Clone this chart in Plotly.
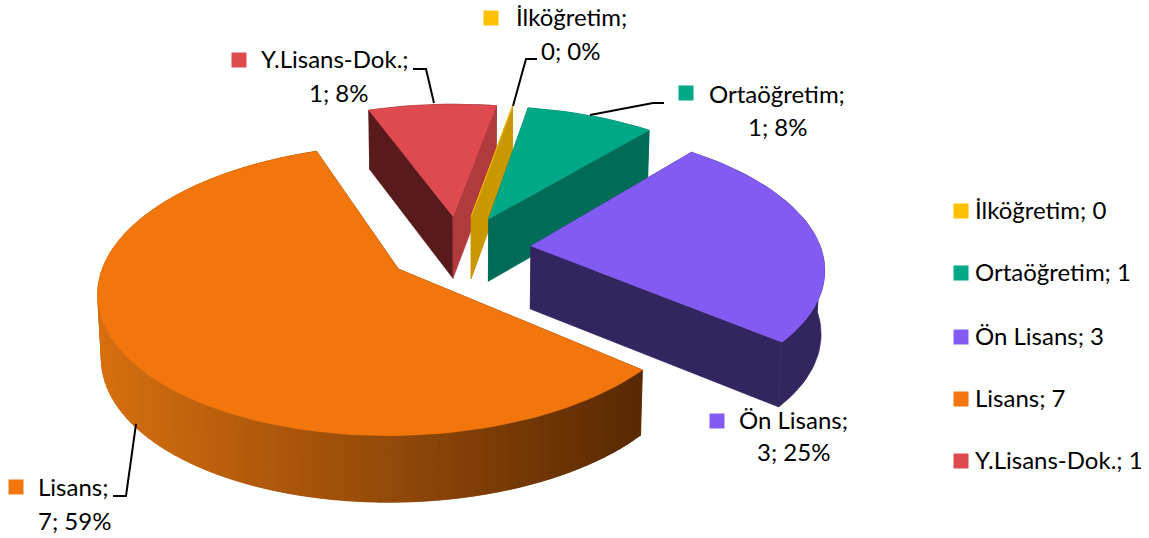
import numpy as np
import plotly.graph_objects as go

# --- data ---
categories = ["İlköğretim", "Ortaöğretim", "Ön Lisans", "Lisans", "Y.Lisans-Dok."]
values = [0, 1, 3, 7, 1]
percents = ["0%", "8%", "25%", "59%", "8%"]

# --- styles ---
top_colors = ["#FFC000", "#00A887", "#825CF2", "#F2760C", "#DE4A50"]
start_cut = ["#C99700", "#006B57", "#33255F", "#5F2C04", "#591A1C"]
end_cut = ["#C99700", "#006B57", "#33255F", "#5F2C04", "#B03A3E"]
wall_dark = {0: "#C99700", 1: "#006B57", 2: "#33255F", 4: "#591A1C"}
LISANS_WALL = ((0xD8, 0x70, 0x10), (0x5A, 0x2A, 0x03))

W, H = 1149, 538
CX, CY = 459, 249
A, B, K = 290, 136.6, 0.1427
EXPL = 0.25
ROT = 10
DEPTH = 63
FONT = "Lato"
FS = 24


def proj(u, v):
    d = 1 - K * v
    return CX + A * u / d, CY + B * v / d


def proj_low(u, v):
    x, y = proj(u, v)
    return CX + (x - CX) * 0.99, y + DEPTH * (1 + 0.05 * v)


fig = go.Figure()


def poly(xs, ys, color):
    fig.add_trace(go.Scatter(
        x=list(xs), y=list(ys), mode="lines", fill="toself", fillcolor=color,
        line=dict(color=color, width=0.6), hoverinfo="skip", showlegend=False))


def slice_(i, a0, a1):
    mid = np.radians((a0 + a1) / 2)
    ou, ov = EXPL * np.sin(mid), -EXPL * np.cos(mid)
    n = max(2, int((a1 - a0) / 2) + 2)
    th = np.radians(np.linspace(a0, a1, n))
    us, vs = ou + np.sin(th), ov - np.cos(th)

    def wall(idx):
        # one polygon over the arc samples idx
        tx, ty = proj(us[idx], vs[idx])
        lx, ly = proj_low(us[idx], vs[idx])
        if i == 3:
            t = np.clip((tx[0] - 97) / (642 - 97), 0, 1)
            c0, c1 = LISANS_WALL
            col = "rgb(%d,%d,%d)" % tuple(c0[q] + (c1[q] - c0[q]) * t for q in range(3))
        else:
            col = wall_dark[i]
        poly(np.r_[tx, lx[::-1], tx[0]], np.r_[ty, ly[::-1], ty[0]], col)

    mids = (vs[:-1] + vs[1:]) / 2
    back = [j for j in range(n - 1) if mids[j] < ov]
    front = [j for j in range(n - 1) if mids[j] >= ov]

    def run(seq):
        if not seq:
            return
        if i == 3:
            for j in seq:
                # each band overlaps its neighbour so no seam shows
                wall(np.arange(j, min(j + 3, n)))
        else:
            wall(np.arange(seq[0], seq[-1] + 2))

    run(back)
    for u, v, col in ((us[0], vs[0], start_cut[i]), (us[-1], vs[-1], end_cut[i])):
        p = [proj(ou, ov), proj(u, v), proj_low(u, v), proj_low(ou, ov), proj(ou, ov)]
        poly([q[0] for q in p], [q[1] for q in p], col)
    run(front)
    px, py = proj(np.r_[ou, us, ou], np.r_[ov, vs, ov])
    poly(px, py, top_colors[i])


total = sum(values)
angles = ROT + np.r_[0, np.cumsum(values)] / total * 360
for i in [4, 0, 1, 2, 3]:
    slice_(i, angles[i], angles[i + 1])

# leader lines
leaders = [
    ([537, 526, 513], [59, 59, 106]),
    ([664, 653, 590], [103, 103, 115]),
    ([113, 126, 136], [496, 496, 424]),
    ([413, 426, 434], [69, 69, 103]),
]
for lx, ly in leaders:
    fig.add_trace(go.Scatter(x=lx, y=ly, mode="lines", line=dict(color="black", width=2),
                             hoverinfo="skip", showlegend=False))

# data labels: marker x/y, line-1 centre, line-2 centre
label_pos = [
    (491, 18, (571, 16), (571, 50)),
    (686, 93, (777, 93), (778, 126)),
    (717, 421, (793, 419), (793, 451)),
    (16, 487, (73, 486), (74, 520)),
    (239, 60, (335, 58), (339, 92)),
]
legend_x, legend_tx = 961, 973
legend_y = [211, 273, 337, 399, 461]


def square(x, y, col):
    fig.add_trace(go.Scatter(x=[x], y=[y], mode="markers",
                             marker=dict(symbol="square", size=15, color=col, line=dict(width=0)),
                             hoverinfo="skip", showlegend=False))


def text(x, y, s, anchor="center"):
    fig.add_annotation(x=x, y=y, text=s, showarrow=False, xanchor=anchor, yanchor="middle",
                       font=dict(family=FONT, size=FS, color="black"), xref="x", yref="y")


for i, c in enumerate(categories):
    mx, my, l1, l2 = label_pos[i]
    square(mx, my, top_colors[i])
    text(l1[0], l1[1], c + ";")
    text(l2[0], l2[1], f"{values[i]}; {percents[i]}")
    square(legend_x, legend_y[i], top_colors[i])
    text(legend_tx, legend_y[i] - 2, f"{c}; {values[i]}", "left")

fig.update_layout(
    width=W, height=H, margin=dict(l=0, r=0, t=0, b=0), paper_bgcolor="white",
    plot_bgcolor="white", showlegend=False,
    xaxis=dict(range=[0, W], visible=False, fixedrange=True),
    yaxis=dict(range=[H, 0], visible=False, fixedrange=True),
)
fig.write_html("out.html", config=dict(displayModeBar=False),
               post_script="document.body.style.margin='0';document.body.style.overflow='hidden';")
